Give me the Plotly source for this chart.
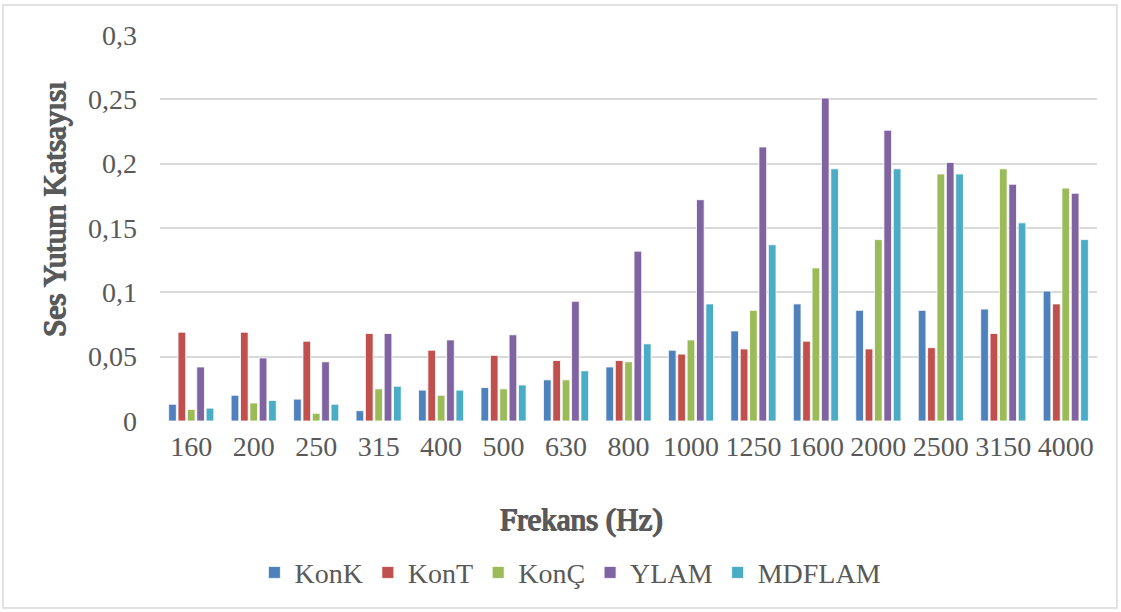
import plotly.graph_objects as go

# Frekans (Hz) kategorileri
frekans = ['160', '200', '250', '315', '400', '500', '630', '800', '1000',
           '1250', '1600', '2000', '2500', '3150', '4000']

# Ses yutum katsayilari
konk = [0.013, 0.020, 0.017, 0.008, 0.024, 0.026, 0.032, 0.042, 0.055,
        0.070, 0.091, 0.086, 0.086, 0.087, 0.101]
kont = [0.069, 0.069, 0.062, 0.068, 0.055, 0.051, 0.047, 0.047, 0.052,
        0.056, 0.062, 0.056, 0.057, 0.068, 0.091]
konc = [0.009, 0.014, 0.006, 0.025, 0.020, 0.025, 0.032, 0.046, 0.063,
        0.086, 0.119, 0.141, 0.192, 0.196, 0.181]
ylam = [0.042, 0.049, 0.046, 0.068, 0.063, 0.067, 0.093, 0.132, 0.172,
        0.213, 0.251, 0.226, 0.201, 0.184, 0.177]
mdflam = [0.010, 0.016, 0.013, 0.027, 0.024, 0.028, 0.039, 0.060, 0.091,
          0.137, 0.196, 0.196, 0.192, 0.154, 0.141]

y_ticks = [0, 0.05, 0.1, 0.15, 0.2, 0.25, 0.3]
y_labels = ['0', '0,05', '0,1', '0,15', '0,2', '0,25', '0,3']

seriler = [
    ('KonK', konk, '#4F81BD'),
    ('KonT', kont, '#C0504D'),
    ('KonÇ', konc, '#9BBB59'),
    ('YLAM', ylam, '#8064A2'),
    ('MDFLAM', mdflam, '#4BACC6'),
]

yazi = 'Liberation Serif, Times New Roman, serif'
gri = '#595959'
# kalin serif yazi yok, golge ile kalinlastir
kalin = '0.9px 0 0 #595959, -0.9px 0 0 #595959, 0 0.6px 0 #595959'

fig = go.Figure()
for ad, degerler, renk in seriler:
    fig.add_trace(go.Bar(
        x=frekans,
        y=degerler,
        name=ad,
        marker=dict(color=renk, line=dict(color='white', width=0.8))
    ))

fig.update_layout(
    width=1121,
    height=612,
    margin=dict(l=160, r=24, t=35, b=191),
    paper_bgcolor='white',
    plot_bgcolor='white',
    barmode='group',
    bargap=0.25,
    bargroupgap=0.18,
    font=dict(family=yazi, size=28, color=gri),
    showlegend=True,
    legend=dict(
        orientation='h',
        x=0.438, xanchor='center',
        y=-0.393, yanchor='middle',
        font=dict(family=yazi, size=28, color=gri),
        traceorder='normal',
    ),
    xaxis=dict(
        type='category',
        showgrid=False,
        showline=False,
        ticks='',
        ticklabelstandoff=6,
        tickfont=dict(family=yazi, size=28, color=gri),
    ),
    yaxis=dict(
        range=[0, 0.3],
        tickvals=y_ticks,
        ticktext=y_labels,
        showgrid=True,
        gridcolor='#D9D9D9',
        gridwidth=1.5,
        zeroline=False,
        showline=False,
        ticks='',
        ticklabelstandoff=22,
        tickfont=dict(family=yazi, size=28, color=gri),
    ),
    annotations=[
        dict(text='Frekans (Hz)', xref='paper', yref='paper',
             x=0.45, y=-0.255, xanchor='center', yanchor='middle',
             showarrow=False,
             font=dict(family=yazi, size=31, color=gri, shadow=kalin)),
        dict(text='Ses Yutum Katsayısı', xref='paper', yref='paper',
             x=-0.112, y=0.55, xanchor='center', yanchor='middle',
             textangle=-90, showarrow=False,
             font=dict(family=yazi, size=31, color=gri, shadow=kalin)),
    ],
    shapes=[
        dict(type='rect', xref='paper', yref='paper',
             x0=-0.1676, x1=1.0213, y0=-0.4845, y1=1.0777,
             line=dict(color='#D9D9D9', width=1.5), layer='below'),
    ],
)

# sayfa kenar boslugunu kaldir
fig.write_html('out.html', config={'displayModeBar': False},
               post_script="document.body.style.margin='0';")
